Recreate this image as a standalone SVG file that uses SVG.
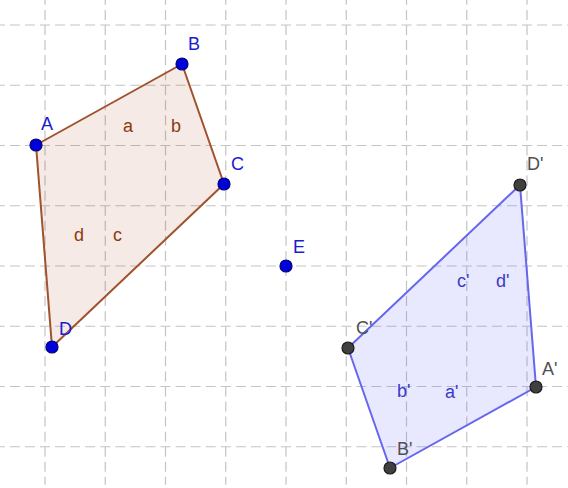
<svg xmlns="http://www.w3.org/2000/svg" width="568" height="488" viewBox="0 0 568 488">
<style>
.grid line{stroke:#c4c4c4;stroke-width:1.2;stroke-dasharray:10 5.0625}
.p1{fill:#993300;fill-opacity:0.1;stroke:#a0522d;stroke-width:2;stroke-linejoin:round}
.p2{fill:#6666ff;fill-opacity:0.15;stroke:#6666ee;stroke-width:2;stroke-linejoin:round}
.pt{fill:#0000d8;stroke:#000080;stroke-width:1.2}
.pt2{fill:#404040;stroke:#1a1a1a;stroke-width:1.2}
text{font-family:"Liberation Sans",Arial,sans-serif;font-size:18px}
.lb{fill:#1a1ad0}
.lg{fill:#505050}
.eb{fill:#8b3a10}
.ev{fill:#3a3ac8}
</style>
<rect width="568" height="488" fill="#ffffff"/>
<g class="grid" id="grid">
<line x1="45" y1="-5" x2="45" y2="500" transform="translate(0,-15.25)"/>
<line x1="105.25" y1="-5" x2="105.25" y2="500" transform="translate(0,-15.25)"/>
<line x1="165.5" y1="-5" x2="165.5" y2="500" transform="translate(0,-15.25)"/>
<line x1="225.75" y1="-5" x2="225.75" y2="500" transform="translate(0,-15.25)"/>
<line x1="286" y1="-5" x2="286" y2="500" transform="translate(0,-15.25)"/>
<line x1="346.25" y1="-5" x2="346.25" y2="500" transform="translate(0,-15.25)"/>
<line x1="406.5" y1="-5" x2="406.5" y2="500" transform="translate(0,-15.25)"/>
<line x1="466.75" y1="-5" x2="466.75" y2="500" transform="translate(0,-15.25)"/>
<line x1="527" y1="-5" x2="527" y2="500" transform="translate(0,-15.25)"/>
<line x1="-20.25" y1="25" x2="600" y2="25"/>
<line x1="-20.25" y1="85.25" x2="600" y2="85.25"/>
<line x1="-20.25" y1="145.5" x2="600" y2="145.5"/>
<line x1="-20.25" y1="205.75" x2="600" y2="205.75"/>
<line x1="-20.25" y1="266" x2="600" y2="266"/>
<line x1="-20.25" y1="326.25" x2="600" y2="326.25"/>
<line x1="-20.25" y1="386.5" x2="600" y2="386.5"/>
<line x1="-20.25" y1="446.75" x2="600" y2="446.75"/>
</g>
<g id="poly1">
<polygon class="p1" points="36,145 182,64 224,184 52,347"/>
<text class="eb" x="123" y="132">a</text>
<text class="eb" x="171" y="132">b</text>
<text class="eb" x="113" y="241">c</text>
<text class="eb" x="74" y="241">d</text>
</g>
<g id="poly2">
<polygon class="p2" points="536,387 390,468 348,348 520,185"/>
<text class="ev" x="445" y="398">a'</text>
<text class="ev" x="397" y="397">b'</text>
<text class="ev" x="457" y="287">c'</text>
<text class="ev" x="496" y="287">d'</text>
</g>
<g id="A"><circle class="pt" cx="36" cy="145" r="6"/><text class="lb" x="41" y="130">A</text></g>
<g id="B"><circle class="pt" cx="182" cy="64" r="6"/><text class="lb" x="188" y="50">B</text></g>
<g id="C"><circle class="pt" cx="224" cy="184" r="6"/><text class="lb" x="231" y="170">C</text></g>
<g id="D"><circle class="pt" cx="52" cy="347" r="6"/><text class="lb" x="59" y="335">D</text></g>
<g id="E"><circle class="pt" cx="286" cy="266" r="6"/><text class="lb" x="293" y="253">E</text></g>
<g id="A2"><circle class="pt2" cx="536" cy="387" r="6"/><text class="lg" x="542" y="375">A'</text></g>
<g id="B2"><circle class="pt2" cx="390" cy="468" r="6"/><text class="lg" x="397" y="455">B'</text></g>
<g id="C2"><circle class="pt2" cx="348" cy="348" r="6"/><text class="lg" x="356" y="334">C'</text></g>
<g id="D2"><circle class="pt2" cx="520" cy="185" r="6"/><text class="lg" x="527" y="170">D'</text></g>
</svg>
